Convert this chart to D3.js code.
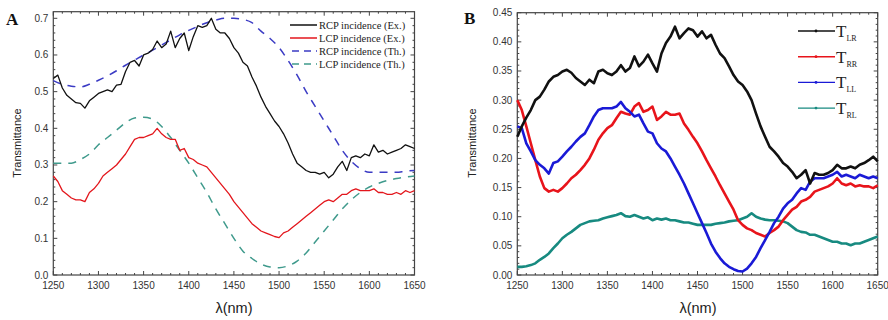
<!DOCTYPE html>
<html>
<head>
<meta charset="UTF-8">
<script src="https://cdn.jsdelivr.net/npm/d3@7"></script>
<style>
  body { margin: 0; background: #fff; }
  .tick-label { font-family: 'Liberation Sans', Arial, sans-serif; font-size: 10px; fill: #333; }
  .axis-title { font-family: 'Liberation Sans', Arial, sans-serif; fill: #222; }
  .legend-a { font-family: 'Liberation Serif', 'Times New Roman', serif; font-size: 10.5px; fill: #222; }
  .legend-b { font-family: 'Liberation Serif', 'Times New Roman', serif; fill: #222; }
  .panel-label { font-family: 'Liberation Serif', 'Times New Roman', serif; font-weight: bold; font-size: 17px; fill: #111; }
</style>
</head>
<body>
<svg id="chart" width="888" height="320"></svg>
<script>
// wavelength grids (nm)
var wlExp = d3.range(1250, 1651, 5);
var wlTh = d3.range(1250, 1651, 10);

// panel A, measured (5 nm steps)
var rcpEx = [0.536,0.545,0.51,0.49,0.48,0.47,0.468,0.455,0.475,0.485,0.495,0.50,0.505,0.50,0.518,0.52,0.555,0.58,0.585,0.57,0.60,0.605,0.615,0.638,0.62,0.63,0.665,0.62,0.645,0.66,0.612,0.65,0.68,0.675,0.68,0.70,0.67,0.66,0.66,0.645,0.62,0.605,0.58,0.57,0.54,0.515,0.485,0.46,0.44,0.42,0.405,0.385,0.36,0.33,0.305,0.295,0.285,0.28,0.28,0.275,0.28,0.265,0.275,0.295,0.31,0.285,0.32,0.325,0.32,0.33,0.325,0.355,0.335,0.34,0.33,0.335,0.34,0.345,0.355,0.35,0.345];
var lcpEx = [0.27,0.255,0.23,0.22,0.21,0.205,0.205,0.20,0.225,0.235,0.25,0.27,0.28,0.29,0.30,0.315,0.33,0.35,0.37,0.375,0.375,0.38,0.385,0.40,0.385,0.375,0.37,0.37,0.34,0.345,0.32,0.315,0.305,0.30,0.295,0.28,0.265,0.25,0.235,0.22,0.20,0.185,0.17,0.155,0.14,0.13,0.12,0.115,0.11,0.105,0.102,0.115,0.12,0.13,0.14,0.15,0.16,0.17,0.18,0.19,0.20,0.205,0.20,0.21,0.22,0.22,0.23,0.235,0.23,0.23,0.23,0.235,0.225,0.225,0.22,0.22,0.225,0.22,0.23,0.225,0.23];
// panel A, theory (10 nm steps)
var rcpTh = [0.53,0.52,0.515,0.513,0.52,0.531,0.543,0.557,0.572,0.586,0.60,0.613,0.627,0.641,0.655,0.667,0.678,0.688,0.695,0.70,0.70,0.697,0.688,0.665,0.645,0.62,0.585,0.545,0.50,0.46,0.42,0.38,0.34,0.31,0.29,0.28,0.28,0.28,0.28,0.283,0.285];
var lcpTh = [0.305,0.305,0.305,0.315,0.33,0.355,0.375,0.395,0.415,0.428,0.43,0.425,0.405,0.375,0.34,0.305,0.265,0.225,0.18,0.14,0.10,0.065,0.045,0.03,0.022,0.02,0.025,0.038,0.06,0.09,0.12,0.15,0.18,0.205,0.225,0.24,0.25,0.258,0.263,0.267,0.27];

// panel B, measured (5 nm steps)
var tLR = [0.237,0.255,0.27,0.283,0.30,0.306,0.318,0.332,0.34,0.343,0.349,0.352,0.347,0.338,0.332,0.326,0.335,0.329,0.349,0.352,0.346,0.343,0.349,0.36,0.349,0.355,0.375,0.358,0.366,0.378,0.363,0.349,0.38,0.398,0.409,0.426,0.406,0.415,0.423,0.42,0.409,0.418,0.406,0.412,0.395,0.38,0.372,0.358,0.343,0.332,0.326,0.315,0.30,0.277,0.255,0.237,0.22,0.212,0.203,0.192,0.186,0.177,0.166,0.172,0.18,0.157,0.175,0.172,0.172,0.175,0.18,0.189,0.183,0.183,0.186,0.183,0.189,0.192,0.197,0.203,0.195];
var tRR = [0.30,0.283,0.255,0.226,0.197,0.169,0.149,0.143,0.146,0.143,0.149,0.157,0.166,0.172,0.18,0.189,0.20,0.215,0.232,0.243,0.252,0.257,0.269,0.28,0.277,0.275,0.289,0.295,0.28,0.283,0.289,0.266,0.272,0.28,0.275,0.275,0.277,0.26,0.249,0.237,0.226,0.212,0.197,0.183,0.169,0.154,0.14,0.126,0.112,0.094,0.086,0.08,0.077,0.072,0.069,0.066,0.072,0.077,0.083,0.094,0.103,0.112,0.117,0.126,0.129,0.134,0.143,0.146,0.149,0.152,0.157,0.166,0.157,0.154,0.157,0.152,0.154,0.152,0.152,0.149,0.154];
var tLL = [0.255,0.252,0.226,0.212,0.197,0.189,0.183,0.174,0.192,0.195,0.203,0.212,0.22,0.229,0.237,0.243,0.257,0.272,0.283,0.286,0.286,0.286,0.289,0.297,0.286,0.28,0.272,0.275,0.26,0.246,0.243,0.226,0.217,0.212,0.20,0.186,0.172,0.157,0.14,0.123,0.106,0.089,0.072,0.054,0.04,0.029,0.02,0.014,0.01,0.007,0.006,0.011,0.02,0.031,0.046,0.06,0.074,0.089,0.10,0.114,0.123,0.129,0.14,0.149,0.146,0.16,0.166,0.166,0.166,0.169,0.172,0.177,0.169,0.172,0.169,0.166,0.172,0.169,0.166,0.169,0.166];
var tRL = [0.014,0.014,0.015,0.017,0.02,0.026,0.031,0.037,0.046,0.054,0.063,0.069,0.074,0.08,0.086,0.089,0.092,0.093,0.094,0.097,0.099,0.101,0.103,0.106,0.101,0.10,0.103,0.10,0.097,0.099,0.094,0.097,0.095,0.097,0.094,0.094,0.092,0.09,0.09,0.088,0.086,0.086,0.086,0.086,0.088,0.089,0.09,0.092,0.093,0.094,0.097,0.10,0.106,0.10,0.097,0.095,0.094,0.094,0.093,0.092,0.089,0.083,0.077,0.074,0.073,0.069,0.069,0.066,0.063,0.06,0.057,0.057,0.054,0.054,0.051,0.054,0.054,0.057,0.06,0.063,0.066];

var xTicks = [1250, 1300, 1350, 1400, 1450, 1500, 1550, 1600, 1650];
var yTicksA = [0, 0.1, 0.2, 0.3, 0.4, 0.5, 0.6, 0.7];
var yTicksB = [0, 0.05, 0.1, 0.15, 0.2, 0.25, 0.3, 0.35, 0.4, 0.45];

var legendA = ["RCP incidence (Ex.)", "LCP incidence (Ex.)", "RCP incidence (Th.)", "LCP incidence (Th.)"];
var legendB = ["LR", "RR", "LL", "RL"];

var svg = d3.select("#chart");

function drawFrame(x, y, yMax, yTicks, yMinorStep, fmt) {
  var x0 = x.range()[0], x1 = x.range()[1];
  var yb = y(0), yt = y(yMax);
  var g = svg.append("g");
  // minor ticks
  var xMinor = d3.range(1250, 1651, 10);
  var yMinor = d3.range(0, yMax + 1e-9, yMinorStep);
  xMinor.forEach(function (v) {
    var len = xTicks.indexOf(v) >= 0 ? 4 : 2;
    g.append("line").attr("x1", x(v)).attr("x2", x(v)).attr("y1", yb).attr("y2", yb - len).attr("stroke", "#444");
    g.append("line").attr("x1", x(v)).attr("x2", x(v)).attr("y1", yt).attr("y2", yt + len).attr("stroke", "#444");
  });
  yMinor.forEach(function (v) {
    var major = yTicks.some(function (t) { return Math.abs(t - v) < 1e-6; });
    var len = major ? 4 : 2;
    g.append("line").attr("x1", x0).attr("x2", x0 + len).attr("y1", y(v)).attr("y2", y(v)).attr("stroke", "#444");
    g.append("line").attr("x1", x1).attr("x2", x1 - len).attr("y1", y(v)).attr("y2", y(v)).attr("stroke", "#444");
  });
  g.append("rect").attr("x", x0).attr("y", yt).attr("width", x1 - x0).attr("height", yb - yt)
    .attr("fill", "none").attr("stroke", "#444").attr("stroke-width", 1.2);

  g.selectAll(".xl").data(xTicks).enter().append("text")
    .attr("class", "tick-label").attr("x", function (d) { return x(d); }).attr("y", yb + 14)
    .attr("text-anchor", "middle").text(function (d) { return d; });
  g.selectAll(".yl").data(yTicks).enter().append("text")
    .attr("class", "tick-label").attr("x", x0 - 5).attr("y", function (d) { return y(d) + 3.5; })
    .attr("text-anchor", "end").text(function (d) { return d3.format(fmt)(d); });
}

function drawLine(x, y, xs, ys, color, width, dash, curve) {
  var line = d3.line().x(function (d, i) { return x(xs[i]); }).y(function (d) { return y(d); })
    .curve(curve || d3.curveLinear);
  var p = svg.append("path").datum(ys).attr("d", line).attr("fill", "none")
    .attr("stroke", color).attr("stroke-width", width).attr("stroke-linejoin", "round");
  if (dash) p.attr("stroke-dasharray", dash);
}

// ---------- panel A ----------
var xA = d3.scaleLinear().domain([1250, 1650]).range([53.3, 414.5]);
var yA = d3.scaleLinear().domain([0, 0.7]).range([275, 18.3]);
drawFrame(xA, yA, 0.718, yTicksA, 0.02, ".1f");

drawLine(xA, yA, wlTh, lcpTh, "#3f9a8c", 1.5, "8,7", d3.curveMonotoneX);
drawLine(xA, yA, wlTh, rcpTh, "#3b3bc4", 1.5, "8,7", d3.curveMonotoneX);
drawLine(xA, yA, wlExp, lcpEx, "#e3161c", 1.3);
drawLine(xA, yA, wlExp, rcpEx, "#111", 1.3);

var colorsA = ["#111", "#e3161c", "#3b3bc4", "#3f9a8c"];
legendA.forEach(function (t, i) {
  var ly = 25 + i * 13;
  var l = svg.append("line").attr("x1", 290).attr("x2", 317).attr("y1", ly).attr("y2", ly)
    .attr("stroke", colorsA[i]).attr("stroke-width", 1.5);
  if (i >= 2) l.attr("stroke-dasharray", "7,5").attr("x1", 292);
  svg.append("text").attr("class", "legend-a").attr("x", 319).attr("y", ly + 3.5).text(t);
});

svg.append("text").attr("class", "panel-label").attr("x", 6).attr("y", 25).text("A");
svg.append("text").attr("class", "axis-title").attr("font-size", 11)
  .attr("transform", "translate(21,143) rotate(-90)").attr("text-anchor", "middle").text("Transmittance");
svg.append("text").attr("class", "axis-title").attr("font-size", 14.5)
  .attr("x", 234).attr("y", 313).attr("text-anchor", "middle").text("λ(nm)");

// ---------- panel B ----------
var xB = d3.scaleLinear().domain([1250, 1650]).range([517.3, 877.7]);
var yB = d3.scaleLinear().domain([0, 0.45]).range([275, 12.7]);
drawFrame(xB, yB, 0.45, yTicksB, 0.01, ".2f");

var colorsB = ["#111", "#e8141b", "#1a1ad6", "#178a80"];
var seriesB = [tLR, tRR, tLL, tRL];
[3, 1, 2, 0].forEach(function (k) {
  drawLine(xB, yB, wlExp, seriesB[k], colorsB[k], 2.6);
});

legendB.forEach(function (s, i) {
  var ly = 31 + i * 25.7;
  svg.append("line").attr("x1", 798).attr("x2", 835).attr("y1", ly).attr("y2", ly)
    .attr("stroke", colorsB[i]).attr("stroke-width", 1.4);
  svg.append("circle").attr("cx", 816).attr("cy", ly).attr("r", 1.4).attr("fill", colorsB[i]);
  var t = svg.append("text").attr("class", "legend-b").attr("x", 836).attr("y", ly + 6);
  t.append("tspan").attr("font-size", 17).text("T");
  t.append("tspan").attr("font-size", 8).attr("dy", 4).text(s);
});

svg.append("text").attr("class", "panel-label").attr("x", 464).attr("y", 24).text("B");
svg.append("text").attr("class", "axis-title").attr("font-size", 11)
  .attr("transform", "translate(476,143) rotate(-90)").attr("text-anchor", "middle").text("Transmittance");
svg.append("text").attr("class", "axis-title").attr("font-size", 14.5)
  .attr("x", 698).attr("y", 313).attr("text-anchor", "middle").text("λ(nm)");
</script>
</body>
</html>
